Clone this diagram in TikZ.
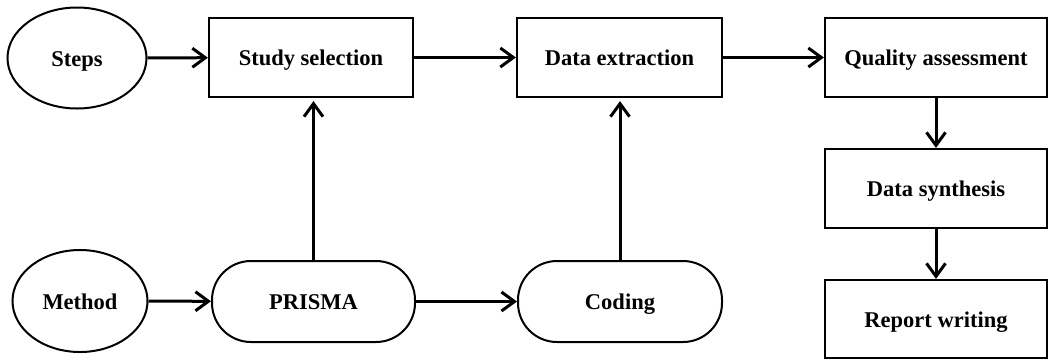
\documentclass[tikz,border=0pt]{standalone}
\usepackage{fontspec}
\setmainfont{Liberation Serif}
\usetikzlibrary{shapes.geometric,arrows.meta}

\begin{document}
\begin{tikzpicture}[x=1pt,y=-1pt,
    font=\fontsize{22.5}{26}\selectfont\bfseries]

      \useasboundingbox (0,0) rectangle (1048,360);

      \begin{scope}[every node/.style={ellipse,draw,line width=2pt,inner sep=0pt,text height=21pt,text depth=5pt}]
        \node[minimum width=139,minimum height=101] (steps)  at (77,58)  {Steps};
        \node[minimum width=135,minimum height=102] (method) at (80,301) {Method};
      \end{scope}

      \begin{scope}[every node/.style={rectangle,draw,line width=2.2pt,inner sep=0pt,minimum height=79,text height=21pt,text depth=5pt}]
        \node[minimum width=204] (select)  at (311,57.5)   {Study selection};
        \node[minimum width=205] (extract) at (619.5,57.5) {Data extraction};
        \node[minimum width=222] (quality) at (936,57.5)   {Quality assessment};
        \node[minimum width=222] (synth)   at (936,188.5)  {Data synthesis};
        \node[minimum width=222,minimum height=78] (report) at (936,319) {Report writing};
      \end{scope}

      \begin{scope}[every node/.style={rectangle,rounded corners=39pt,draw,line width=2pt,inner sep=0pt,minimum height=81,text height=21pt,text depth=5pt}]
        \node[minimum width=203] (prisma) at (313.5,301.5) {PRISMA};
        \node[minimum width=204] (coding) at (620,301.5)   {Coding};
      \end{scope}

      \begin{scope}[every edge/.style={draw,line width=3pt,-{Straight Barb[length=13pt,width=19pt,line width=3pt]}}]
        % top row
        \path (steps)   edge (select);
        \path (select)  edge (extract);
        \path (extract) edge (quality);
        % right column
        \path (quality) edge (synth);
        \path (synth)   edge (report);
        % bottom row
        \path (method)  edge (prisma);
        \path (prisma)  edge (coding);
        % up into the top row
        \path (prisma.north) edge ([yshift=-3pt]prisma.north |- select.south);
        \path (coding.north) edge ([yshift=-3pt]coding.north |- extract.south);
      \end{scope}

    \end{tikzpicture}
\end{document}
